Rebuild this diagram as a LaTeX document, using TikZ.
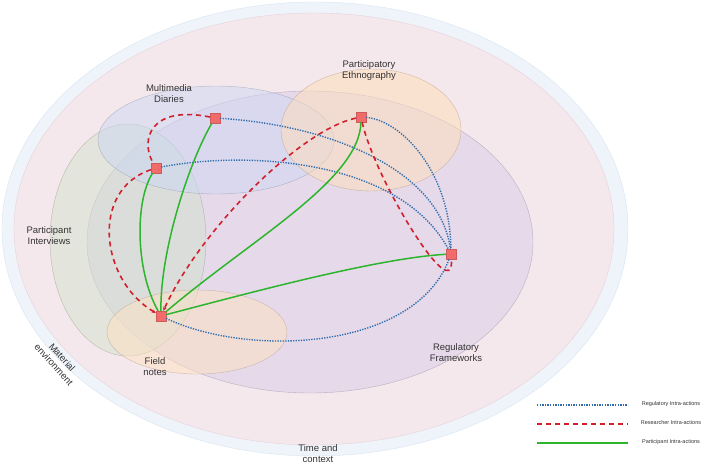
\documentclass[tikz,border=0pt]{standalone}
\usepackage{fontspec}
\setmainfont{Liberation Sans}
\usetikzlibrary{arrows.meta,shapes.geometric}

\definecolor{ringblue}{HTML}{EEF4FA}
\definecolor{ringedge}{HTML}{D8E5F1}
\definecolor{bgpink}{HTML}{F5E8EC}
\definecolor{bgpinkedge}{HTML}{E6D2D8}
\definecolor{regfill}{HTML}{D9CCEA}
\definecolor{diaryfill}{HTML}{CDD8F4}
\definecolor{ethnofill}{HTML}{FFDDB8}
\definecolor{intfill}{HTML}{D2E2CC}
\definecolor{notefill}{HTML}{FFE2C2}
\definecolor{sitered}{HTML}{F26B6B}
\definecolor{regblue}{HTML}{2F6DAF}
\definecolor{resred}{HTML}{D1202B}
\definecolor{partgreen}{HTML}{2DB52D}
\definecolor{labelgray}{HTML}{333333}

\tikzset{
  zone/.style={ellipse, inner sep=0pt, fill opacity=0.5, draw opacity=0.6, line width=0.4pt},
  site/.style={rectangle, minimum size=10pt, inner sep=0pt, fill=sitered, draw=sitered!85!black, line width=0.3pt},
  zonelabel/.style={align=center, text=labelgray, font=\fontsize{9.5}{11}\selectfont},
  regline/.style={draw=regblue, line width=1.4pt, dash pattern=on 1.3pt off 1.3pt},
  resline/.style={draw=resred, line width=1.6pt, dash pattern=on 5pt off 4pt},
  partline/.style={draw=partgreen, line width=1.5pt},
  keytext/.style={text=labelgray, font=\fontsize{5.5}{6}\selectfont}
}

\begin{document}
\begin{tikzpicture}[x=1pt, y=-1pt]
\useasboundingbox[fill=white] (0,0) rectangle (709,468);

% surroundings: time/context ring and material environment
\fill[ringblue, draw=ringedge] (315,229) ellipse [x radius=313, y radius=227];
\fill[bgpink, draw=bgpinkedge] (314,229) ellipse [x radius=300, y radius=216];

% method zones
\node[zone, fill=regfill, draw=regfill!70!black, minimum width=446pt, minimum height=302pt] (regzone) at (310,242) {};
\node[zone, fill=intfill, draw=intfill!70!black, minimum width=156pt, minimum height=232pt] (intzone) at (128,240) {};
\node[zone, fill=diaryfill, draw=diaryfill!70!black, minimum width=236pt, minimum height=108pt] (diaryzone) at (216,140) {};
\node[zone, fill=ethnofill, draw=ethnofill!70!black, minimum width=180pt, minimum height=122pt] (ethnozone) at (371,130) {};
\node[zone, fill=notefill, draw=notefill!70!black, minimum width=180pt, minimum height=84pt] (notezone) at (197,332) {};

% labels
\node[zonelabel] (diarylab) at (169,93.5) {Multimedia\\Diaries};
\node[zonelabel] (ethnolab) at (369,70.5) {Participatory\\Ethnography};
\node[zonelabel] (intlab) at (49,235.5) {Participant\\Interviews};
\node[zonelabel] (notelab) at (155,367) {Field\\notes};
\node[zonelabel] (reglab) at (456,352.5) {Regulatory\\Frameworks};
\node[zonelabel] (timelab) at (318,454) {Time and\\context};
\node[zonelabel, rotate=-48] (matlab) at (58,361) {Material\\environment};

% data sites
\node[site] (diary) at (215,118) {};
\node[site] (interview) at (156,168) {};
\node[site] (ethno) at (361,117) {};
\node[site] (reg) at (451,254) {};
\node[site] (notes) at (161,316) {};

% regulatory intra-actions
\draw[regline] (diary) .. controls (330,125) and (440,170) .. (reg);
\draw[regline] (interview) .. controls (250,150) and (400,160) .. (reg);
\draw[regline] (ethno) .. controls (400,120) and (450,170) .. (reg);
\draw[regline] (notes) .. controls (250,358) and (415,350) .. (reg);

% researcher intra-actions
\draw[resline] (diary) .. controls (150,105) and (140,140) .. (interview);
\draw[resline, -{Stealth[length=4pt,width=3.5pt]}] (interview) .. controls (90,190) and (100,280) .. (notes);
\draw[resline, -{Stealth[length=4pt,width=3.5pt]}] (ethno) .. controls (300,130) and (200,230) .. (notes);
\draw[resline] (ethno) .. controls (375,180) and (455,310) .. (reg);

% participant intra-actions
\draw[partline] (notes) .. controls (135,270) and (135,200) .. (interview);
\draw[partline] (notes) .. controls (160,250) and (190,160) .. (diary);
\draw[partline] (notes) .. controls (250,240) and (360,180) .. (ethno);
\draw[partline] (notes) .. controls (260,290) and (380,258) .. (reg);

% key
\coordinate (k1) at (537,405);
\coordinate (k2) at (537,424);
\coordinate (k3) at (537,443);
\draw[regline] (k1) -- ++(91,0);
\draw[resline] (k2) -- ++(91,0);
\draw[partline] (k3) -- ++(91,0);
\node[keytext] (regkey) at (671,404) {Regulatory Intra-actions};
\node[keytext] (reskey) at (671,423) {Researcher Intra-actions};
\node[keytext] (partkey) at (671,442) {Participant Intra-actions};

\end{tikzpicture}
\end{document}
